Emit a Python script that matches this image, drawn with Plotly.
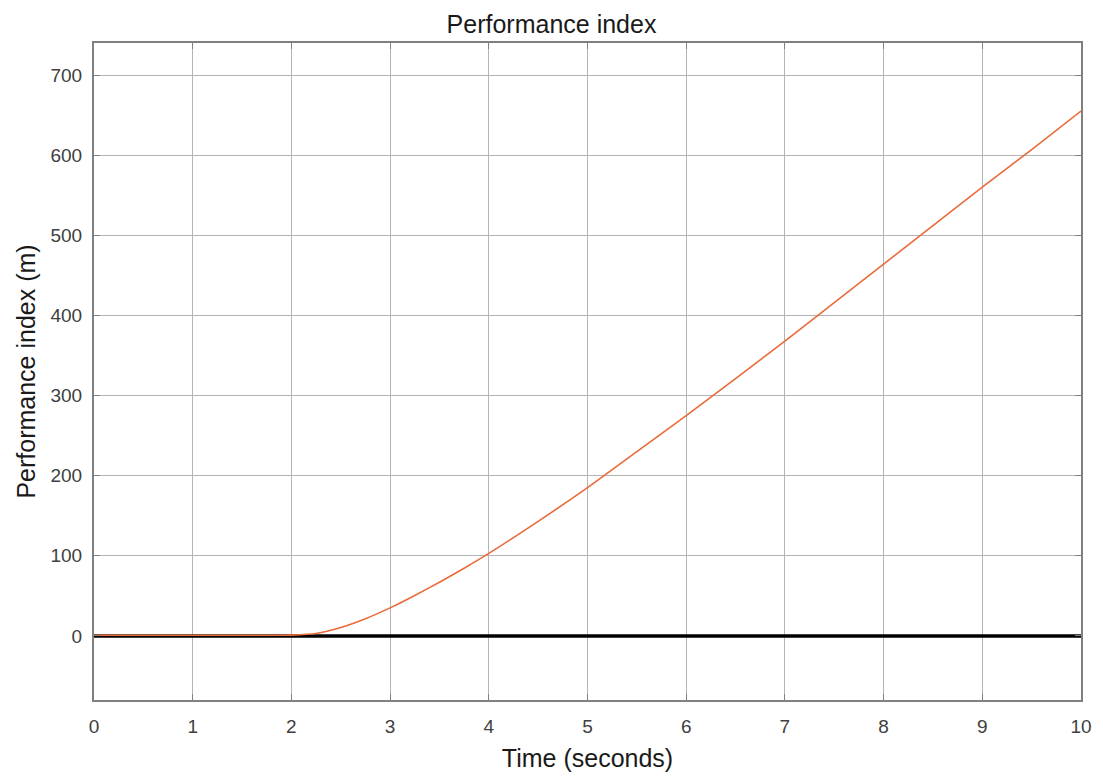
import plotly.graph_objects as go

# Performance index over time
time_s = [0, 0.5, 1.0, 1.5, 1.75, 2.0, 2.25, 2.5, 2.75, 3.0, 3.25, 3.5, 3.75, 4.0,
          4.5, 5.0, 5.5, 6.0, 6.5, 7.0, 7.5, 8.0, 8.5, 9.0, 9.5, 10.0]
perf_index = [0.8, 0.8, 0.8, 0.8, 0.8, 1.0, 3.0, 10.5, 21.5, 35, 50.5, 67, 84.5, 103,
              143, 185, 230, 275, 321, 368, 416, 464, 512, 560, 607, 655]

# Zero reference line
ref_time = [0, 10]
ref_value = [0, 0]

x_ticks = list(range(0, 11))
y_ticks = list(range(0, 701, 100))

FONT = "Liberation Sans, Arial, sans-serif"

fig = go.Figure()
fig.add_trace(go.Scatter(x=ref_time, y=ref_value, mode="lines",
                         line=dict(color="black", width=3.5), showlegend=False))
fig.add_trace(go.Scatter(x=time_s, y=perf_index, mode="lines",
                         line=dict(color="#EA6A3A", width=1.6, shape="spline", smoothing=0.6),
                         showlegend=False))

axis_common = dict(
    showgrid=True, gridcolor="#B4B4B4", gridwidth=1,
    showline=True, linecolor="#808080", linewidth=2, mirror="ticks",
    ticks="inside", ticklen=6, tickcolor="#808080", tickwidth=1,
    zeroline=False,
    tickfont=dict(family=FONT, size=19, color="#404040"),
)

fig.update_layout(
    width=1103, height=779,
    paper_bgcolor="white", plot_bgcolor="white",
    margin=dict(l=94, r=22, t=43, b=79),
    title=dict(text="Performance index", x=0.5, xanchor="center", y=0.969, yanchor="middle",
               font=dict(family=FONT, size=25, color="#1a1a1a")),
    xaxis=dict(range=[0, 10], tickvals=x_ticks, ticklabelstandoff=8,
               title=dict(text="Time (seconds)", standoff=14,
                          font=dict(family=FONT, size=25, color="#1a1a1a")),
               **axis_common),
    yaxis=dict(range=[-80, 740], tickvals=y_ticks, ticklabelstandoff=6,
               title=dict(text="Performance index (m)", standoff=8,
                          font=dict(family=FONT, size=25, color="#1a1a1a")),
               **axis_common),
)

fig.write_html("out.html")
